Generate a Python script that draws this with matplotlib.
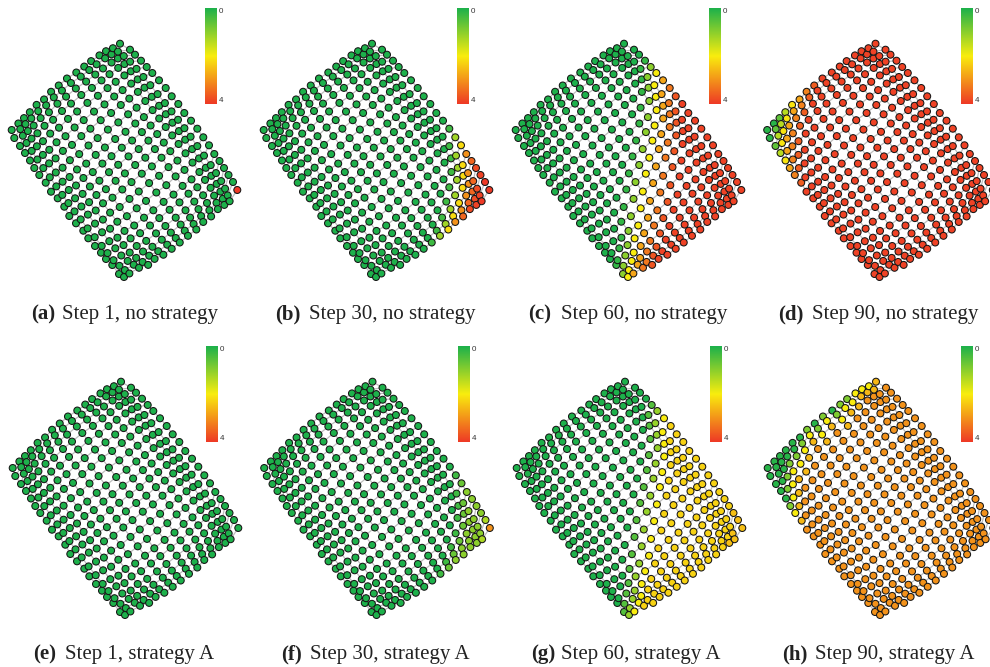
import matplotlib
matplotlib.use("Agg")
import matplotlib.pyplot as plt
import numpy as np
from matplotlib.colors import LinearSegmentedColormap

# node positions (pixels of panel a), one list per lattice line
LINE_X = [
 [11.7,14.3,20,25,30,34.3,39.3,45.7,51,57.7,64.3,69.3,76,83.3,88.3,95,101,106,112.3,119,124],
 [19,23,27.5,32,37.2,42.9,48.2,53.5,59.4,65.4,71.5,77.6,83.8,90.1,96,102.4,108.2,114.2,119.7,125.2,130],
 [25,29.2,34.1,38.9,44.3,50.3,55.9,61.4,67.6,73.8,80.1,86.4,92.9,99.4,105.3,111.9,117.9,123.9,129.5,135,140],
 [31,35.4,40.5,45.6,51.2,57.5,63.2,69,75.4,81.8,88.4,94.9,101.5,108.1,114.1,120.8,126.9,133.1,138.6,144.3,149.3],
 [37.7,42.2,47.3,52.5,58.2,64.5,70.3,76.1,82.6,89,95.5,102,108.6,115.1,121.1,127.7,133.8,139.9,145.3,150.8,155.7],
 [45,49.7,54.9,60.2,66.1,72.6,78.5,84.5,90.9,97.5,104.1,110.6,117.2,123.8,129.8,136.5,142.4,148.5,154,159.4,164.3],
 [51.7,56.5,62,67.4,73.4,80,86.1,92.1,98.7,105.4,112,118.6,125.3,131.9,137.9,144.6,150.6,156.6,162,167.5,172.3],
 [59,63.8,69.3,74.7,80.8,87.4,93.5,99.5,106.2,112.8,119.5,126.2,132.8,139.5,145.5,152.2,158.2,164.3,169.7,175.2,180],
 [66.7,71.5,77,82.4,88.5,95.1,101.2,107.2,113.9,120.5,127.2,133.9,140.5,147.2,153.2,159.9,165.9,172,177.4,182.9,187.7],
 [75.7,80.5,85.9,91.3,97.3,103.9,109.9,115.9,122.5,129.1,135.7,142.3,148.9,155.5,161.5,168.1,174.1,180.1,185.5,190.9,195.7],
 [83.3,88.1,93.7,99.2,105.2,111.9,117.9,124,130.6,137.2,143.7,150.2,156.8,163.2,169.1,175.5,181.4,187.2,192.5,197.6,202.3],
 [90,95,100.7,106.3,112.5,119.4,125.5,131.6,138.3,145,151.6,158.2,164.7,171.2,177.1,183.5,189.3,195.1,200.3,205.4,210],
 [98.3,103.4,109.1,114.8,121,127.8,133.9,140.1,146.8,153.4,159.9,166.4,172.8,179.1,184.9,191.2,196.8,202.4,207.3,212.4,216.7],
 [105,110.2,116.1,121.8,128.2,135.1,141.3,147.4,154.1,160.8,167.4,173.9,180.2,186.5,192.2,198.4,203.9,209.3,214.2,219.1,223.3],
 [112.3,117.6,123.5,129.4,135.8,142.7,149,155.1,161.8,168.4,174.9,181.3,187.5,193.6,199.1,205.2,210.5,215.7,220.4,224.9,229],
 [120,130,135,141,146.7,152.3,159,165.7,171.7,178.3,184.3,191,197.3,203.3,209,214.3,219.5,224,228.5,233,237.3],
]
LINE_Y = [
 [130,138,146,153,160.5,168,175,182.7,191.7,198.3,206.7,216,223.3,230.7,238.3,246,252.7,259,265,274,277],
 [123,129.4,136.6,143.7,151.6,160.2,168,175.7,184,192.5,200.7,209,217,225.2,232.5,240.4,247.6,254.7,261.1,267.4,273],
 [117.3,123.6,130.7,137.8,145.5,154.1,161.8,169.4,177.8,186.1,194.4,202.6,210.7,218.9,226.1,234.2,241.3,248.5,255,261.3,267],
 [111.3,117.7,124.8,131.9,139.8,148.4,156.2,164,172.5,181,189.4,197.7,206,214.3,221.9,230.1,237.5,245,251.5,258.2,264],
 [104,110.4,117.4,124.5,132.3,141,148.8,156.6,165.1,173.6,182.1,190.6,198.9,207.4,215,223.4,230.9,238.5,245.2,252,258],
 [98.7,105,112.1,119.2,127.1,135.6,143.5,151.2,159.9,168.4,177,185.5,194,202.5,210.2,218.7,226.4,234.1,241,247.9,254],
 [91.3,97.6,104.6,111.7,119.6,128.2,136,143.9,152.5,161.2,169.8,178.4,187.1,195.7,203.6,212.2,220,227.9,235,242,248.3],
 [85.3,91.6,98.6,105.7,113.6,122.2,130,137.9,146.5,155.2,163.8,172.4,181.1,189.7,197.6,206.2,214,221.9,229,236,242.3],
 [78.7,85,92.1,99.1,107,115.7,123.5,131.4,140,148.7,157.4,166,174.7,183.3,191.2,199.8,207.7,215.6,222.6,229.7,236],
 [73,79.3,86.3,93.4,101.3,109.9,117.7,125.6,134.2,142.9,151.5,160.1,168.8,177.4,185.3,193.9,201.7,209.6,216.7,223.7,230],
 [67.3,73.4,80.3,87.2,94.9,103.3,111,118.8,127.2,135.8,144.3,152.8,161.4,170,177.8,186.5,194.3,202.2,209.3,216.4,222.7],
 [62,68,74.8,81.7,89.3,97.6,105.3,112.9,121.5,129.9,138.5,147,155.6,164.2,172,180.7,188.6,196.6,203.7,210.9,217.3],
 [56.3,62.1,68.9,75.5,83,91.2,98.7,106.3,114.6,123,131.5,139.9,148.5,157,164.8,173.4,181.3,189.2,196.4,203.6,210],
 [52,57.8,64.4,71,78.3,86.4,93.9,101.5,109.7,118.1,126.6,135,143.6,152.2,160,168.6,176.6,184.7,191.9,199.3,205.7],
 [48.7,54.3,60.8,67.2,74.4,82.5,89.9,97.3,105.5,113.8,122.2,130.6,139.1,147.7,155.7,164.4,172.4,180.4,187.8,195.1,201.7],
 [43.7,49.7,54.7,60.7,67,73,80.3,88,96.3,104,113,120.7,128.7,137.3,145.3,154,161,168,175,182,190],
]
# corrections from comparing with the reference: whole lines pulled toward the borders
LINE_SHIFT_X = [0,-3.1,-5,-5.8,-5.6,-4.7,-3,-1.3,1.3,3,4.7,5.6,5.8,5,3.1,0]
LINE_SHIFT_Y = [0,2.4,3.9,4.5,4.4,3.7,2.4,1,-1,-2.4,-3.7,-4.4,-4.5,-3.9,-2.4,0]
LINE_SHIFT_WEIGHT = [.2,.5,.8,1,1,1,1,1,1,1,1,1,1,1,1,1,1,1,.8,.5,.2]
RANK_SHIFT_X = [0,-1.2,-2.2,-2.4,-2.4,-2.4,-1.8,-.6,0,0,0,0,0,.6,1.8,2.4,2.4,2.4,2.2,1.2,0]
RANK_SHIFT_Y = [0,-1.5,-2.8,-3.1,-3.1,-3.1,-2.3,-.8,0,0,0,0,0,.8,2.3,3.1,3.1,3.1,2.8,1.5,0]

STEP1_NONE = [4] + [0]*35
STEP30_NONE = [4,4,3.9,3.8,3.5,3,2.2,1.2,0.3] + [0]*27
STEP60_NONE = [3.9]*12 + [3.7,3.3,2.8,2,1,0.2] + [0]*18
STEP90_NONE = [3.9]*28 + [3.6,3.2,2.8,2.1,1.4,0.6,0.1,0.1]
STEP1_A = [0]*36
STEP30_A = [3,1.3,1,1,1,1,0.7,0.3] + [0]*28
STEP60_A = [2.5,2.5,2.5] + [2.3]*11 + [2,1.1,0.5] + [0]*19
# strategy A, step 90: first yellow node on each lattice line
STEP90_A_FRONT = [6,5,4,3,3,2,1,2,1,2,1,1,0,0,0,-1]

TITLES = [("(a)", "Step 1, no strategy", 31, 62), ("(b)", "Step 30, no strategy", 275, 309),
          ("(c)", "Step 60, no strategy", 528, 561), ("(d)", "Step 90, no strategy", 778, 812),
          ("(e)", "Step 1, strategy A", 33, 65), ("(f)", "Step 30, strategy A", 281, 310),
          ("(g)", "Step 60, strategy A", 531, 561), ("(h)", "Step 90, strategy A", 782, 815)]
OFFSET_X = [0, 252, 504, 755.5, 1, 252.5, 505, 756]
OFFSET_Y = [0, 0, 0, 0, 338, 338, 338, 338]
HOPS = [STEP1_NONE, STEP30_NONE, STEP60_NONE, STEP90_NONE, STEP1_A, STEP30_A, STEP60_A, None]

W, H = 990, 667
cmap = LinearSegmentedColormap.from_list("load", ["#1DB14B", "#F9ED0E", "#EE3A26"])
fig = plt.figure(figsize=(W/100, H/100), dpi=100)
ax = fig.add_axes([0, 0, 1, 1])
ax.set_xlim(0, W); ax.set_ylim(H, 0); ax.axis("off")

lx, ly = np.array(LINE_X), np.array(LINE_Y)
nj, ni = lx.shape
inner = np.r_[0, np.ones(nj-2), 0]
lx = lx + np.outer(LINE_SHIFT_X, LINE_SHIFT_WEIGHT) + np.outer(inner, RANK_SHIFT_X)
ly = ly + np.outer(LINE_SHIFT_Y, LINE_SHIFT_WEIGHT) + np.outer(inner, RANK_SHIFT_Y)
serif = "Liberation Serif"
sans = "Liberation Sans"

for p in range(8):
    ox, oy = OFFSET_X[p], OFFSET_Y[p]
    x, y = lx + ox, ly + oy
    ax.plot(x, y, color="#bdbdbd", lw=0.9, zorder=1)
    ax.plot(x.T, y.T, color="#bdbdbd", lw=0.9, zorder=1)
    vals = np.zeros((nj, ni))
    for j in range(nj):
        for i in range(ni):
            if p == 7:
                f = STEP90_A_FRONT[j]
                vals[j, i] = 0.1 if i < f - 1 else 0.9 if i == f - 1 else 2 if i == f else 2.6 if i == f + 1 else 3
            else:
                vals[j, i] = HOPS[p][(ni - 1 - i) + (nj - 1 - j)]
    ax.scatter(x.ravel(), y.ravel(), c=vals.ravel(), cmap=cmap, vmin=0, vmax=4, s=25,
               edgecolors="#151515", linewidths=0.75, zorder=2)
    grad = np.linspace(0, 1, 200).reshape(-1, 1)
    bx = 205 + ox
    ax.imshow(grad, cmap=cmap, extent=[bx, bx + 12, 104 + oy, 8 + oy], aspect="auto", zorder=3)
    ax.text(bx + 14, 11.5 + oy, "0", fontsize=5.8, family=sans, color="#333333", va="center", ha="left")
    ax.text(bx + 14, 100.5 + oy, "4", fontsize=5.8, family=sans, color="#333333", va="center", ha="left")
    lab, txt, xa, xb = TITLES[p]
    yt = 319 if p < 4 else 659
    ax.text(xa, yt, lab, fontsize=15, family=serif, weight="bold", color="#222222", va="baseline", ha="left")
    ax.text(xb, yt, txt, fontsize=15, family=serif, color="#222222", va="baseline", ha="left")

ax.set_xlim(0, W); ax.set_ylim(H, 0)
fig.savefig("out.png", dpi=100)
